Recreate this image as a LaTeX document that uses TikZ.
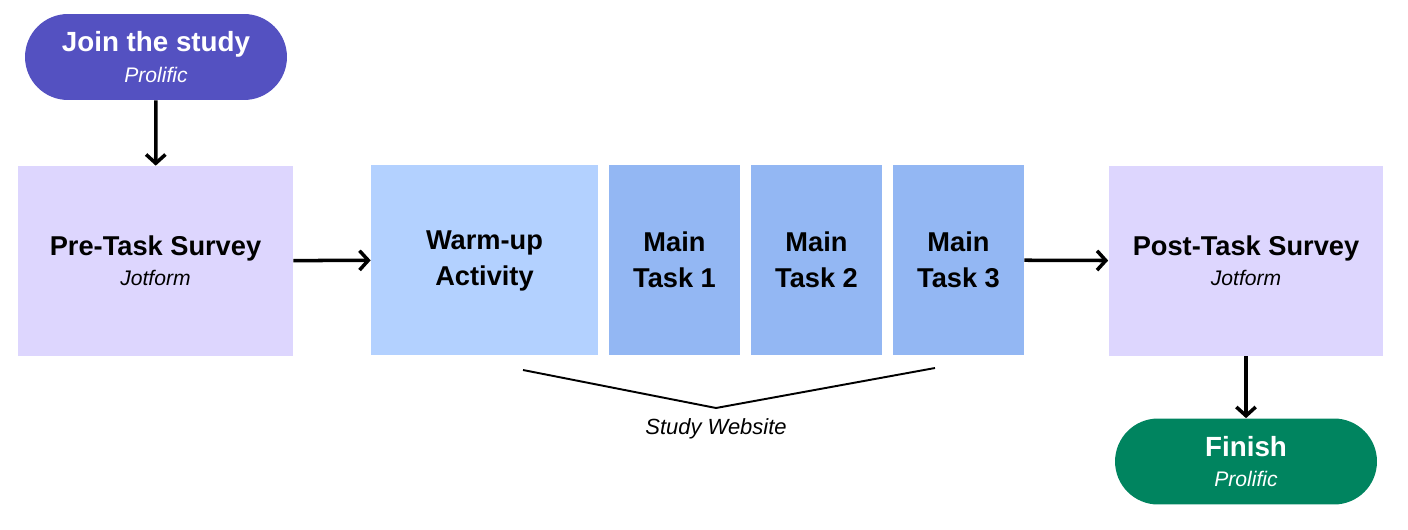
\documentclass[tikz,border=0pt]{standalone}
\usepackage{fontspec}
\setmainfont{Liberation Sans}
\usetikzlibrary{arrows.meta}

\definecolor{joinpurple}{HTML}{5451C1}
\definecolor{surveylilac}{HTML}{DDD6FE}
\definecolor{warmblue}{HTML}{B3D1FF}
\definecolor{taskblue}{HTML}{93B7F3}
\definecolor{finishgreen}{HTML}{00845F}

\begin{document}
\begin{tikzpicture}[x=0.02cm,y=-0.02cm,
    pill/.style={rounded corners=0.86cm,minimum width=5.24cm,minimum height=1.72cm,text=white,align=center,inner sep=0pt},
    survey/.style={fill=surveylilac,minimum width=5.5cm,minimum height=3.8cm,align=center,inner sep=0pt},
    task/.style={fill=taskblue,minimum width=2.62cm,minimum height=3.8cm,align=center,inner sep=0pt},
    title/.style={font=\fontsize{15.5}{20.5}\selectfont\bfseries},
    flow/.style={line width=2pt,-{Straight Barb[length=5pt,width=11pt,line width=2pt]}}]

        \useasboundingbox (0,0) rectangle (1408,530);

        \node[pill,fill=joinpurple] (join) at (156,57)
            {{\fontsize{15.8}{18}\selectfont\bfseries Join the study}\\[5.5pt]{\fontsize{12}{13}\selectfont\itshape Prolific}};

        \node[survey] (pre) at (155.5,261)
            {{\fontsize{15.5}{18}\selectfont\bfseries Pre-Task Survey}\\[5pt]{\fontsize{12}{13}\selectfont\itshape Jotform}};

        \node[fill=warmblue,minimum width=4.54cm,minimum height=3.8cm,align=center,inner sep=0pt,title] (warm) at (484.5,260) {\strut Warm-up\\\strut Activity};

        \node[task,title] (main1) at (674.5,260) {Main\\Task 1};
        \node[task,title] (main2) at (816.5,260) {Main\\Task 2};
        \node[task,title] (main3) at (958.5,260) {Main\\Task 3};

        \node[survey] (post) at (1246,261)
            {{\fontsize{15.5}{18}\selectfont\bfseries Post-Task Survey}\\[5pt]{\fontsize{12}{13}\selectfont\itshape Jotform}};

        \node[pill,fill=finishgreen] (finish) at (1246,461.5)
            {{\fontsize{15.8}{18}\selectfont\bfseries Finish}\\[5.5pt]{\fontsize{12}{13}\selectfont\itshape Prolific}};

        \draw[flow] (join) -- (pre);
        \draw[flow] (pre) -- (warm);
        \draw[flow] (main3) -- (post);
        \draw[flow] (post) -- (finish);

        % bracket under the website tasks
        \coordinate (brleft) at (523,370);
        \coordinate (brtip) at (716,408);
        \coordinate (brright) at (935,368);
        \draw[line width=1.1pt] (brleft) -- (brtip) -- (brright);
        \node[font=\fontsize{12.5}{14}\selectfont\itshape] (website) at (716,429) {Study Website};
      \end{tikzpicture}
\end{document}
